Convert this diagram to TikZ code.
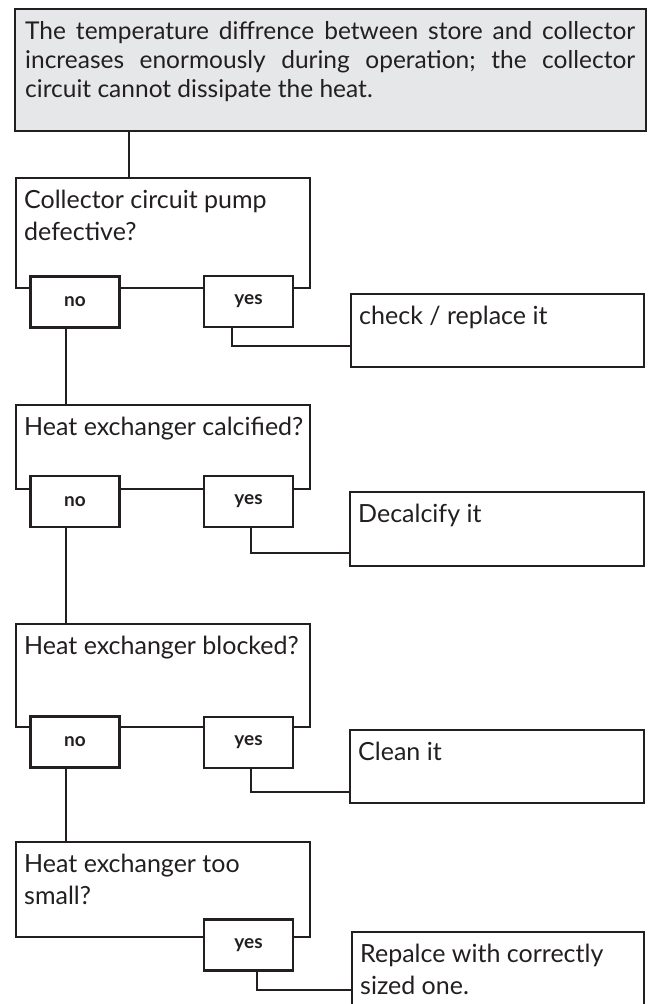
\documentclass[tikz,border=0pt]{standalone}
\usepackage{fontspec}
\setmainfont{Lato}
\usetikzlibrary{calc}
\definecolor{ink}{HTML}{231F20}
\definecolor{panel}{HTML}{E6E7E8}
\newcommand\qfont{\fontsize{25pt}{32pt}\selectfont}
\newcommand\tstrut{\rule{0pt}{20pt}}
\frenchspacing
\begin{document}
\begin{tikzpicture}[x=1pt,y=-1pt,
  box/.style={draw=ink, line width=2.8pt, fill=white, outer sep=0pt, inner sep=0pt,
              anchor=north west, rectangle},
  qtext/.style={anchor=north west, align=left, inner sep=0pt, xshift=8pt, yshift=-10pt,
              font=\qfont, text=ink},
  tag/.style={box, minimum width=89pt, minimum height=51pt, font=\bfseries\fontsize{19pt}{22pt}\selectfont, text=ink, anchor=center},
  wire/.style={draw=ink, line width=2.8pt}
]
\useasboundingbox (0,0) rectangle (656,1004);
\clip (0,0) rectangle (656,1004);

% top statement
\node[box, fill=panel, minimum width=631pt, minimum height=122pt,
  label={[qtext, xshift=2pt, yshift=0pt, font=\fontsize{24.5pt}{29pt}\selectfont]north west:{%
  \tstrut\makebox[610pt][s]{The temperature diffrence between store and collector}\\
  \makebox[610pt][s]{increases enormously during operation; the collector}\\
  circuit cannot dissipate the heat.}}] (top) at (15,9) {};

% questions
\node[box, minimum width=294pt, minimum height=110pt,
  label={[qtext]north west:{\tstrut Collector circuit pump\\defective?}}] (q1) at (16,178) {};
\node[box, minimum width=294pt, minimum height=84pt,
  label={[qtext]north west:{\tstrut Heat exchanger calcified?}}] (q2) at (16,405) {};
\node[box, minimum width=294pt, minimum height=103pt,
  label={[qtext]north west:{\tstrut Heat exchanger blocked?}}] (q3) at (16,624) {};
\node[box, minimum width=294pt, minimum height=95pt,
  label={[qtext]north west:{\tstrut Heat exchanger too\\small?}}] (q4) at (16,842) {};

% answers
\node[box, minimum width=293pt, minimum height=73pt,
  label={[qtext]north west:{\tstrut check / replace it}}] (a1) at (351,294) {};
\node[box, minimum width=294pt, minimum height=74pt,
  label={[qtext]north west:{\tstrut Decalcify it}}] (a2) at (350,492) {};
\node[box, minimum width=294pt, minimum height=73pt,
  label={[qtext]north west:{\tstrut Clean it}}] (a3) at (350,730) {};
\node[box, minimum width=292pt, minimum height=110pt,
  label={[qtext]north west:{\tstrut Repalce with correctly\\sized one.}}] (a4) at (352,932) {};

% no / yes tags
\node[tag] (no1) at (75,302) {no};
\node[tag] (yes1) at (248.5,301.5) {yes};
\node[tag] (no2) at (75,501.5) {no};
\node[tag] (yes2) at (248.5,501.5) {yes};
\node[tag] (no3) at (75,742) {no};
\node[tag] (yes3) at (248.5,742.5) {yes};
\node[tag] (yes4) at (248.5,945) {yes};

% connectors
\coordinate (c0) at (129,0);
\draw[wire] (c0 |- top.south) -- (c0 |- q1.north);
\draw[wire] ([xshift=-9pt]no1.south) -- ([xshift=-9pt]no1.south |- q2.north);
\draw[wire] ([xshift=-9pt]no2.south) -- ([xshift=-9pt]no2.south |- q3.north);
\draw[wire] ([xshift=-9pt]no3.south) -- ([xshift=-9pt]no3.south |- q4.north);
\draw[wire] ([xshift=-16.5pt]yes1.south) |- ([yshift=-15.5pt]a1.west);
\draw[wire] ([xshift=2.5pt]yes2.south) |- ([yshift=-24pt]a2.west);
\draw[wire] ([xshift=2.5pt]yes3.south) |- ([yshift=-25.5pt]a3.west);
\draw[wire] ([xshift=8.5pt]yes4.south) |- ([yshift=-3pt]a4.west);
\end{tikzpicture}
\end{document}
